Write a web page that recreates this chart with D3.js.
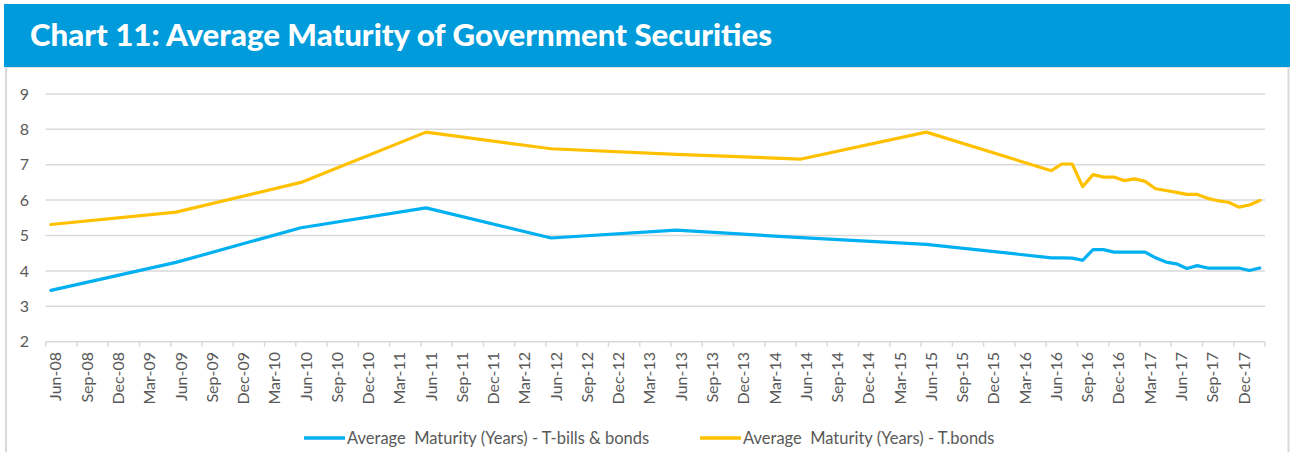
<!DOCTYPE html>
<html><head><meta charset="utf-8">
<script src="https://cdn.jsdelivr.net/npm/d3@7"></script>
<style>
html,body{margin:0;padding:0;background:#fff;}
svg{display:block;}
</style></head>
<body>
<svg id="chart" width="1290" height="452"></svg>
<script>
// ---- data ----
const dates = ["Jun-08","Jun-09","Jun-10","Jun-11","Jun-12","Jun-13","Jun-14","Jun-15",
  "Jun-16","Jul-16","Aug-16","Sep-16","Oct-16","Nov-16","Dec-16",
  "Jan-17","Feb-17","Mar-17","Apr-17","May-17","Jun-17","Jul-17","Aug-17","Sep-17","Oct-17","Nov-17","Dec-17",
  "Jan-18","Feb-18"];
const tbillsBonds = [3.45,4.24,5.22,5.78,4.93,5.15,4.94,4.75,
  4.37,4.37,4.36,4.30,4.60,4.60,4.53,
  4.53,4.53,4.53,4.37,4.25,4.20,4.07,4.15,4.08,4.08,4.08,4.08,
  4.01,4.08];
const tbonds = [5.31,5.66,6.50,7.92,7.45,7.29,7.16,7.92,
  6.83,7.02,7.02,6.38,6.72,6.65,6.65,
  6.55,6.60,6.53,6.32,6.27,6.22,6.16,6.16,6.05,5.98,5.94,5.80,
  5.86,5.99];
const tickLabels = ["Jun-08","Sep-08","Dec-08","Mar-09","Jun-09","Sep-09","Dec-09","Mar-10","Jun-10","Sep-10","Dec-10",
  "Mar-11","Jun-11","Sep-11","Dec-11","Mar-12","Jun-12","Sep-12","Dec-12","Mar-13","Jun-13","Sep-13","Dec-13",
  "Mar-14","Jun-14","Sep-14","Dec-14","Mar-15","Jun-15","Sep-15","Dec-15","Mar-16","Jun-16","Sep-16","Dec-16",
  "Mar-17","Jun-17","Sep-17","Dec-17"];
const yTicks = [2,3,4,5,6,7,8,9];
const seriesNames = ["Average  Maturity (Years) - T-bills & bonds","Average  Maturity (Years) - T.bonds"];
const colors = ["#00B0F0","#FFC000"];

// ---- helpers ----
const monNames = ["Jan","Feb","Mar","Apr","May","Jun","Jul","Aug","Sep","Oct","Nov","Dec"];
function monthIndex(label){
  const [m,y] = label.split("-");
  return (2000+ +y - 2008)*12 + monNames.indexOf(m) - 5;
}
const nMonths = monthIndex("Feb-18") + 1; // axis runs to end of Feb-18

const svg = d3.select("#chart");
const W = 1290;

// header bar
svg.append("rect").attr("x",4).attr("y",4).attr("width",W-4).attr("height",63).attr("fill","#009BDA");
svg.append("text").attr("x",30).attr("y",45.5)
  .attr("fill","#fff").attr("font-family","Lato").attr("font-weight","900").attr("font-size",30)
  .attr("textLength",742).attr("lengthAdjust","spacingAndGlyphs")
  .text("Chart 11: Average Maturity of Government Securities");

// panel borders
svg.append("line").attr("x1",6).attr("x2",6).attr("y1",67).attr("y2",452).attr("stroke","#d9d9d9").attr("stroke-width",2);
svg.append("line").attr("x1",1288.5).attr("x2",1288.5).attr("y1",67).attr("y2",452).attr("stroke","#d9d9d9").attr("stroke-width",2);
svg.append("line").attr("x1",6).attr("x2",1289).attr("y1",67.5).attr("y2",67.5).attr("stroke","#e0e0e0").attr("stroke-width",1);

// scales
const x = d3.scaleLinear().domain([0,nMonths]).range([45.7,1265]);
const y = d3.scaleLinear().domain([2,9]).range([341.7,93.9]);

// gridlines
svg.append("g").selectAll("line").data(yTicks.filter(d=>d>2)).join("line")
  .attr("x1",x(0)).attr("x2",x(nMonths)).attr("y1",d=>y(d)).attr("y2",d=>y(d))
  .attr("stroke","#d9d9d9").attr("stroke-width",1.5);

// y labels
svg.append("g").selectAll("text").data(yTicks).join("text")
  .attr("x",29).attr("y",d=>y(d)).attr("dy","0.36em").attr("text-anchor","end")
  .attr("font-family","Lato").attr("font-size",16).attr("fill","#595959").text(d=>d);

// x axis
const tickIdx = d3.range(0, nMonths+1, 3);
svg.append("line").attr("x1",x(0)).attr("x2",x(nMonths)).attr("y1",y(2)).attr("y2",y(2))
  .attr("stroke","#d9d9d9").attr("stroke-width",1.5);
svg.append("g").selectAll("line").data(tickIdx).join("line")
  .attr("x1",d=>x(d)).attr("x2",d=>x(d)).attr("y1",y(2)).attr("y2",y(2)+5)
  .attr("stroke","#d9d9d9").attr("stroke-width",1.5);
svg.append("g").selectAll("text").data(tickLabels).join("text")
  .attr("transform",d=>`translate(${x(monthIndex(d))+10},352) rotate(-90)`)
  .attr("dy","0.36em").attr("text-anchor","end")
  .attr("font-family","Lato").attr("font-size",16).attr("fill","#595959").text(d=>d);

// lines
const series = [tbillsBonds, tbonds];
const line = d3.line().x(d=>x(monthIndex(d[0])+0.5)).y(d=>y(d[1]));
series.forEach((vals,i)=>{
  svg.append("path").datum(dates.map((d,j)=>[d,vals[j]]))
    .attr("d",line).attr("fill","none").attr("stroke",colors[i]).attr("stroke-width",3.2)
    .attr("stroke-linejoin","round").attr("stroke-linecap","round");
});

// legend
const legX = [304,700];
seriesNames.forEach((name,i)=>{
  svg.append("line").attr("x1",legX[i]).attr("x2",legX[i]+41).attr("y1",438).attr("y2",438)
    .attr("stroke",colors[i]).attr("stroke-width",3.5);
  svg.append("text").attr("x",legX[i]+43).attr("y",438).attr("dy","0.36em")
    .attr("font-family","Lato").attr("font-size",16.5).attr("fill","#595959")
    .attr("xml:space","preserve").style("white-space","pre").text(name);
});
</script>
</body></html>
